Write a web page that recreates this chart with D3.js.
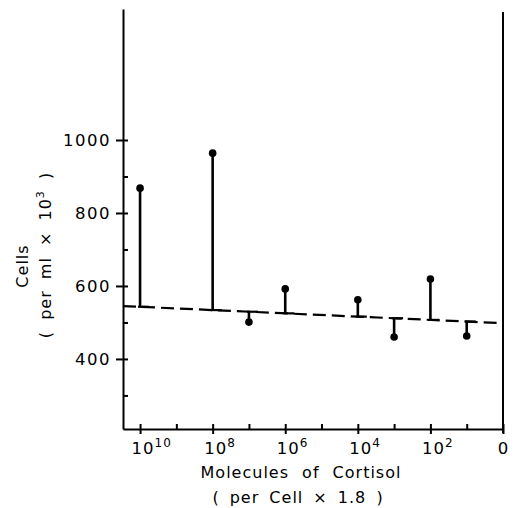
<!DOCTYPE html>
<html>
<head>
<meta charset="utf-8">
<script src="https://cdn.jsdelivr.net/npm/d3@7"></script>
<style>
  body { margin: 0; background: #fff; }
  text { font-family: "DejaVu Sans", sans-serif; fill: #000; }
</style>
</head>
<body>
<div id="chart"></div>
<script>
// data
const exponents = [10, 8, 7, 6, 4, 3, 2, 1];          // cortisol, 10^n molecules
const cells = [868, 964, 501, 592, 562, 460, 619, 463]; // cells per ml x 10^3
const controlExp = [10.47, 0];                        // ends of dashed control line
const controlCells = [545, 498];

const xMajor = [10, 8, 6, 4, 2, 0];
const xMinor = [9, 7, 5, 3, 1];
const yMajor = [400, 600, 800, 1000];
const yMinor = [300, 500, 700, 900];

const width = 514;
const height = 508;

const svg = d3.select("#chart")
    .append("svg")
    .attr("width", width)
    .attr("height", height)

const x = d3.scaleLinear().domain([10.47, 0]).range([123, 503]);
const y = d3.scaleLinear().domain([208, 1359]).range([429, 9]);

const control = d3.scaleLinear().domain(controlExp).range(controlCells);

// y axis
const yAx = svg.append("g")
    .attr("transform", `translate(${x(10.47)},0)`)
    .call(d3.axisLeft(y).tickValues(yMajor).tickFormat(d3.format("d"))
        .tickSize(7).tickSizeOuter(0).tickPadding(5))
yAx.selectAll(".tick line").attr("x1", 5).attr("x2", -7)
svg.append("g")
    .attr("transform", `translate(${x(10.47)},0)`)
    .call(d3.axisRight(y).tickValues(yMinor).tickSize(5).tickFormat(""))
    .select(".domain").remove()

// x axis
const xAx = svg.append("g")
    .attr("transform", `translate(0,${y(208)})`)
    .call(d3.axisBottom(x).tickValues(xMajor).tickSize(5).tickSizeOuter(0).tickFormat(""))
xAx.selectAll(".tick line").attr("y1", -5).attr("y2", 5)
svg.append("g")
    .attr("transform", `translate(0,${y(208)})`)
    .call(d3.axisTop(x).tickValues(xMinor).tickSize(5).tickFormat(""))
    .select(".domain").remove()

svg.selectAll(".domain, .tick line")
    .attr("stroke", "#000")
    .attr("stroke-width", 2)

yAx.selectAll(".tick text")
    .attr("font-size", 16.5)
    .attr("letter-spacing", 1.5)

// x tick labels with superscripts
xAx.selectAll(".tick").each(function(d) {
    const t = d3.select(this).append("text")
        .attr("y", 25)
        .attr("font-size", 16.5)
        .attr("letter-spacing", 1)
    if (d === 0) {
        t.attr("text-anchor", "middle").text("0")
    } else {
        t.attr("text-anchor", "start").attr("x", -9)
        t.append("tspan").text("10")
        t.append("tspan").attr("dy", -7).attr("font-size", 12).text(d)
    }
})

// right border
svg.append("line")
    .attr("x1", x(0)).attr("x2", x(0))
    .attr("y1", 12).attr("y2", y(208) + 4)
    .attr("stroke", "#000")
    .attr("stroke-width", 2)

// dashed control level
svg.append("line")
    .attr("x1", x(controlExp[0])).attr("x2", x(controlExp[1]))
    .attr("y1", y(controlCells[0])).attr("y2", y(controlCells[1]))
    .attr("stroke", "#000")
    .attr("stroke-width", 2.2)
    .attr("stroke-dasharray", "13,6")

const pts = exponents.map((e, i) => ({ e: e, v: cells[i], c: control(e) }))

const g = svg.append("g")
g.selectAll(".step")
    .data(pts)
    .join("line")
    .attr("x1", d => x(d.e) - 2).attr("x2", d => x(d.e) + 9)
    .attr("y1", d => y(d.c)).attr("y2", d => y(d.c))
    .attr("stroke", "#000")
    .attr("stroke-width", 2.2)
g.selectAll(".stem")
    .data(pts)
    .join("line")
    .attr("x1", d => x(d.e)).attr("x2", d => x(d.e))
    .attr("y1", d => y(d.c)).attr("y2", d => y(d.v))
    .attr("stroke", "#000")
    .attr("stroke-width", 2.6)
g.selectAll("circle")
    .data(pts)
    .join("circle")
    .attr("cx", d => x(d.e))
    .attr("cy", d => y(d.v))
    .attr("r", 3.8)
    .attr("fill", "#000")

// axis titles
svg.append("text")
    .attr("x", 301).attr("y", 478)
    .attr("text-anchor", "middle")
    .attr("font-size", 16)
    .attr("letter-spacing", 1)
    .attr("word-spacing", 7)
    .text("Molecules of Cortisol")
svg.append("text")
    .attr("x", 298).attr("y", 503)
    .attr("text-anchor", "middle")
    .attr("font-size", 16)
    .attr("letter-spacing", 1)
    .attr("word-spacing", 4)
    .text("( per Cell × 1.8 )")

svg.append("text")
    .attr("transform", "translate(28,266) rotate(-90)")
    .attr("text-anchor", "middle")
    .attr("font-size", 16)
    .attr("letter-spacing", 1)
    .text("Cells")
const yl = svg.append("text")
    .attr("transform", "translate(51,255) rotate(-90)")
    .attr("text-anchor", "middle")
    .attr("font-size", 16)
    .attr("letter-spacing", 1)
    .attr("word-spacing", 5)
yl.append("tspan").text("( per ml × 10")
yl.append("tspan").attr("dy", -7).attr("font-size", 11).text("3")
yl.append("tspan").attr("dy", 7).text(" )")
</script>
</body>
</html>
